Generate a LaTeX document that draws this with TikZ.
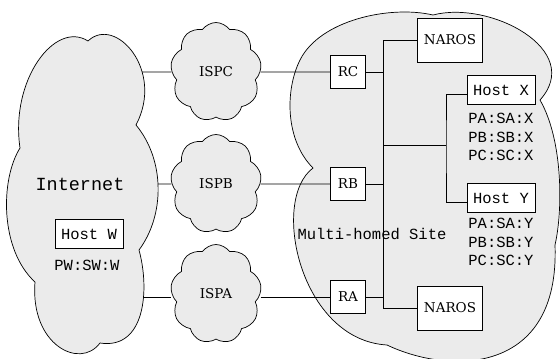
\documentclass[tikz,border=0pt]{standalone}
\usepackage{fontspec}
\setmonofont{Liberation Mono}
\newfontfamily\boxserif{DejaVu Serif}
\usetikzlibrary{shapes.symbols,calc}
\definecolor{cloudgray}{RGB}{235,235,235}
\tikzstyle{bigcloud} = [draw=black, fill=cloudgray]
\tikzstyle{ispcloud} = [cloud, cloud puffs=9, cloud puff arc=110, cloud ignores aspect,
  draw=black, fill=cloudgray, minimum width=91pt, minimum height=99pt, inner sep=0pt,
  font=\boxserif\fontsize{13.5}{15}\selectfont]
\tikzstyle{routerbox} = [draw=black, fill=white, rectangle, minimum width=35pt,
  minimum height=33pt, inner sep=0pt, font=\boxserif\fontsize{13.5}{15}\selectfont]
\tikzstyle{narosbox} = [routerbox, minimum width=65pt, minimum height=44pt]
\tikzstyle{hostbox} = [draw=black, fill=white, rectangle, minimum width=68pt,
  minimum height=29pt, inner sep=0pt, font=\ttfamily\fontsize{15.5}{18.5}\selectfont]
\tikzstyle{addr} = [inner sep=0pt, align=center, font=\ttfamily\fontsize{15.5}{18.5}\selectfont]

\begin{document}
\begin{tikzpicture}[x=1pt, y=-1pt, line width=0.7pt]
  \useasboundingbox (0,0) rectangle (560,359);
  \node[ispcloud] (ispc) at (216,72) {ISPC};
  \node[ispcloud] (ispb) at (216,184) {ISPB};
  \node[ispcloud] (ispa) at (216,294) {ISPA};
  \coordinate (inetC) at (120,72);
  \coordinate (inetB) at (130,184);
  \coordinate (inetA) at (120,297);
  \draw (inetC) -- (ispc.west);
  \draw (inetB) -- (ispb.west);
  \draw (inetA) -- (ispa.west |- inetA);
  % the two big clouds
  \draw[bigcloud] (88,41) .. controls (115,15) and (165,70) .. (136,125)
    .. controls (165,160) and (165,215) .. (139,250)
    .. controls (150,290) and (145,350) .. (100,343)
    .. controls (80,370) and (30,345) .. (35,282)
    .. controls (0,250) and (0,180) .. (20,148)
    .. controls (10,80) and (55,20) .. cycle;
  \draw[bigcloud] (433,15) .. controls (490,0) and (585,50) .. (540,100)
    .. controls (563,140) and (563,210) .. (555,245)
    .. controls (560,375) and (450,375) .. (387,345)
    .. controls (300,340) and (270,200) .. (313,168)
    .. controls (285,140) and (285,90) .. (300,60)
    .. controls (320,20) and (390,5) .. cycle;

  \node[addr, font=\ttfamily\fontsize{18.5}{22}\selectfont] (inetlabel) at (80,184) {Internet};
  \node[hostbox] (hostW) at (89,234) {Host W};
  \node[addr] (addrW) at (87,265) {PW:SW:W};

  \node[routerbox] (rc) at (348,72) {RC};
  \node[routerbox] (rb) at (348,184) {RB};
  \node[routerbox] (ra) at (348,297) {RA};

  \node[narosbox] (narosT) at (450,40) {NAROS};
  \node[narosbox] (narosB) at (450,308) {NAROS};
  \node[hostbox] (hostX) at (501,90) {Host X};
  \node[addr] (addrX) at (501,137) {PA:SA:X\\PB:SB:X\\PC:SC:X};
  \node[hostbox] (hostY) at (501,198) {Host Y};
  \node[addr] (addrY) at (501,242) {PA:SA:Y\\PB:SB:Y\\PC:SC:Y};
  \node[addr] (sitelabel) at (372,234) {Multi-homed Site};

  \coordinate (trunkT) at (383,40);
  \coordinate (trunkB) at (383,308);
  \coordinate (hostbus) at (446,145);

  \draw (ispc.east) -- (rc.west);
  \draw (ispb.east) -- (rb.west);
  \draw (ispa.east |- ra.west) -- (ra.west);
  \draw (rc.east) -- (rc.east -| trunkT);
  \draw (rb.east) -- (rb.east -| trunkT);
  \draw (ra.east) -- (ra.east -| trunkT);
  \draw (narosT.west) -- (trunkT) -- (trunkB) -- (narosB.west);
  \draw (trunkT |- hostbus) -- (hostbus);
  \draw ([yshift=-4pt]hostX.west) -| (hostbus) |- ([yshift=-4pt]hostY.west);
\end{tikzpicture}
\end{document}
